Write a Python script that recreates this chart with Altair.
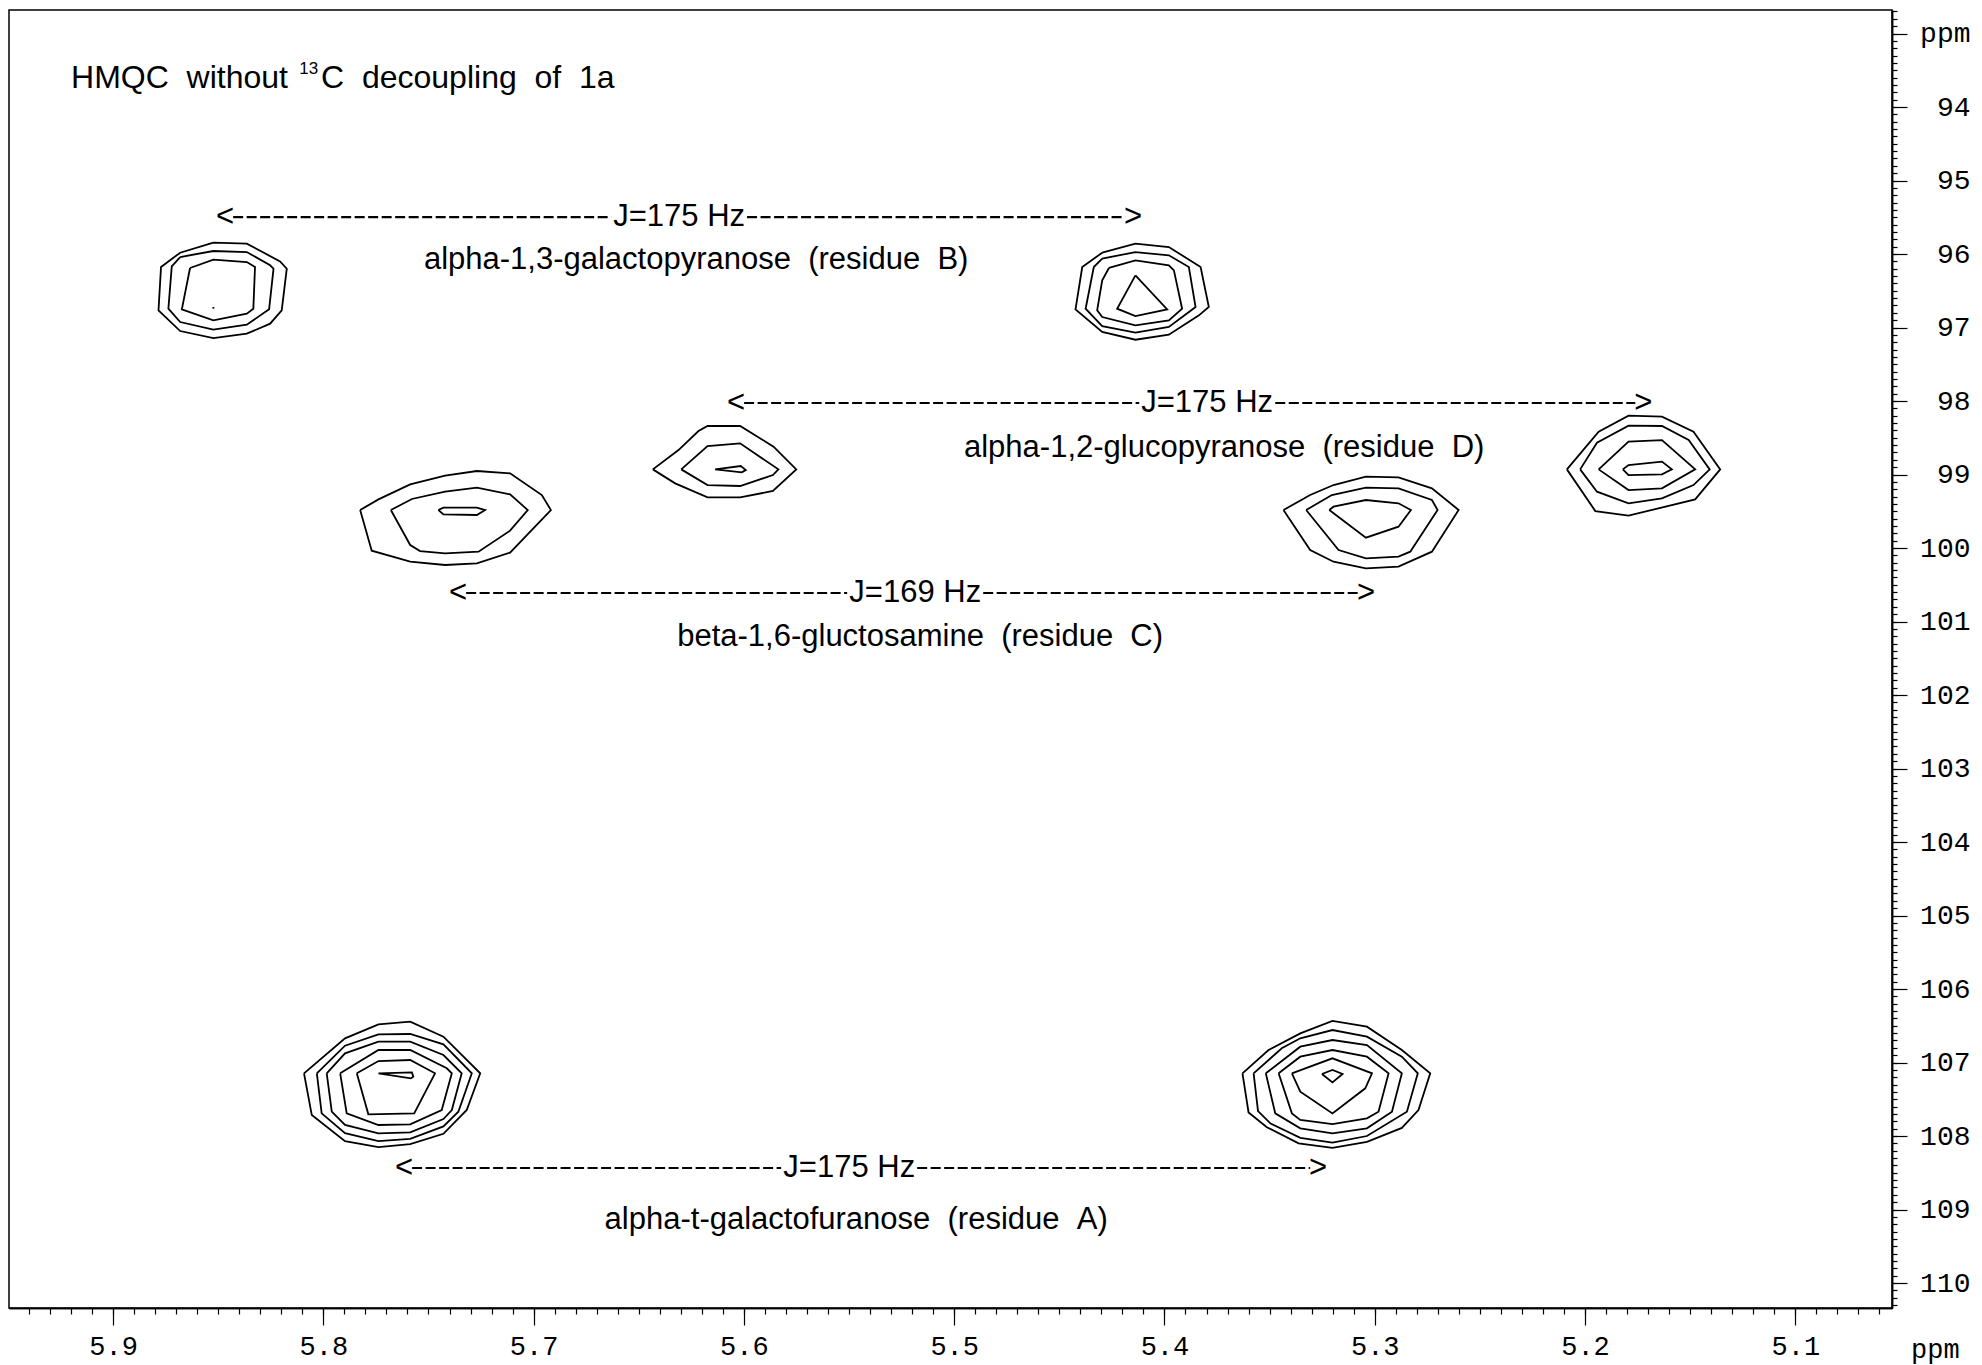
import altair as alt
import pandas as pd

# ---------------- contour polygons (x = 1H ppm, y = 13C ppm) ----------------
PEAK_B_LEFT = [
    [(5.8523, 95.846), (5.8364, 95.859), (5.8206, 96.100), (5.8174, 96.200), (5.8198, 96.766), (5.8253, 96.948),
     (5.8364, 97.084), (5.8523, 97.143), (5.8681, 97.048), (5.8784, 96.766), (5.8772, 96.177), (5.8681, 95.982)],
    [(5.8681, 96.041), (5.8523, 95.959), (5.8364, 95.973), (5.8253, 96.154), (5.8237, 96.200), (5.8258, 96.753),
     (5.8364, 96.961), (5.8523, 97.029), (5.8681, 96.925), (5.8737, 96.744), (5.8721, 96.168)],
    [(5.8634, 96.190), (5.8523, 96.077), (5.8364, 96.109), (5.8325, 96.177), (5.8333, 96.744), (5.8364, 96.812),
     (5.8523, 96.902), (5.8673, 96.753)],
]
DOT_B_LEFT = [(5.8523, 96.721), (5.8523, 96.744)]

PEAK_B_RIGHT = [
    [(5.4296, 95.982), (5.4138, 95.859), (5.3979, 95.905), (5.3828, 96.177), (5.3789, 96.721), (5.3836, 96.834),
     (5.3979, 97.098), (5.4138, 97.166), (5.4296, 97.061), (5.4423, 96.753), (5.4391, 96.177)],
    [(5.4296, 96.063), (5.4138, 95.973), (5.3979, 96.018), (5.3884, 96.177), (5.3852, 96.721), (5.3979, 96.993),
     (5.4138, 97.070), (5.4296, 96.980), (5.4375, 96.744), (5.4336, 96.177)],
    [(5.4264, 96.190), (5.4138, 96.086), (5.3979, 96.154), (5.3955, 96.222), (5.3916, 96.744), (5.3979, 96.902),
     (5.4138, 96.971), (5.4296, 96.857), (5.4320, 96.766), (5.4296, 96.358)],
    [(5.4138, 96.290), (5.3987, 96.753), (5.4138, 96.844), (5.4225, 96.744)],
]

PEAK_C_LEFT = [
    [(5.7825, 99.483), (5.7738, 99.338), (5.7587, 99.134), (5.7421, 99.016), (5.7270, 98.952), (5.7112, 98.984),
     (5.6961, 99.279), (5.6918, 99.483), (5.7112, 100.063), (5.7270, 100.209), (5.7421, 100.231), (5.7587, 100.186),
     (5.7770, 100.036)],
    [(5.7679, 99.483), (5.7579, 99.333), (5.7421, 99.234), (5.7270, 99.179), (5.7112, 99.270), (5.7028, 99.483),
     (5.7112, 99.764), (5.7262, 100.050), (5.7421, 100.073), (5.7540, 100.041), (5.7587, 99.959)],
    [(5.7453, 99.483), (5.7429, 99.451), (5.7270, 99.451), (5.7231, 99.483), (5.7270, 99.551), (5.7429, 99.542)],
]

PEAK_D_LEFT = [
    [(5.6433, 98.930), (5.6311, 98.667), (5.6216, 98.408), (5.6173, 98.340), (5.6018, 98.340), (5.5859, 98.621),
     (5.5751, 98.930), (5.5862, 99.224), (5.6018, 99.311), (5.6173, 99.311), (5.6327, 99.120)],
    [(5.6298, 98.930), (5.6173, 98.612), (5.6018, 98.576), (5.5836, 98.930), (5.5862, 99.007), (5.6018, 99.156),
     (5.6173, 99.143)],
    [(5.6137, 98.930), (5.6015, 98.884), (5.5991, 98.939), (5.6010, 98.971)],
]

PEAK_C_RIGHT = [
    [(5.3434, 99.483), (5.3307, 99.279), (5.3196, 99.143), (5.3042, 99.029), (5.2887, 99.039), (5.2728, 99.188),
     (5.2601, 99.483), (5.2728, 100.050), (5.2887, 100.254), (5.3042, 100.277), (5.3196, 100.186), (5.3307, 100.027)],
    [(5.3326, 99.483), (5.3204, 99.279), (5.3042, 99.179), (5.2887, 99.188), (5.2728, 99.347), (5.2701, 99.483),
     (5.2831, 100.050), (5.2887, 100.118), (5.3042, 100.141), (5.3172, 100.027)],
    [(5.3216, 99.483), (5.3196, 99.438), (5.3042, 99.347), (5.2887, 99.392), (5.2828, 99.483), (5.2887, 99.710),
     (5.3042, 99.859)],
]

PEAK_D_RIGHT = [
    [(5.2086, 98.930), (5.1935, 98.417), (5.1793, 98.200), (5.1634, 98.213), (5.1484, 98.417), (5.1357, 98.930),
     (5.1476, 99.338), (5.1793, 99.560), (5.1951, 99.497)],
    [(5.2023, 98.930), (5.1943, 98.567), (5.1793, 98.336), (5.1634, 98.340), (5.1507, 98.531), (5.1407, 98.930),
     (5.1484, 99.143), (5.1634, 99.324), (5.1793, 99.392), (5.1943, 99.234)],
    [(5.1935, 98.930), (5.1793, 98.553), (5.1634, 98.531), (5.1476, 98.930), (5.1634, 99.188), (5.1793, 99.211)],
    [(5.1820, 98.930), (5.1793, 98.871), (5.1634, 98.825), (5.1587, 98.930), (5.1634, 98.998), (5.1793, 99.007)],
]

PEAK_A_LEFT = [
    [(5.8092, 107.147), (5.7897, 106.671), (5.7738, 106.481), (5.7587, 106.444), (5.7429, 106.649), (5.7254, 107.147),
     (5.7318, 107.646), (5.7429, 107.970), (5.7587, 108.110), (5.7738, 108.150), (5.7897, 108.070), (5.8055, 107.715)],
    [(5.8031, 107.147), (5.7897, 106.771), (5.7738, 106.617), (5.7587, 106.612), (5.7429, 106.753), (5.7294, 107.147),
     (5.7358, 107.669), (5.7429, 107.870), (5.7587, 108.040), (5.7738, 108.070), (5.7897, 107.960), (5.8008, 107.692)],
    [(5.7984, 107.147), (5.7897, 106.875), (5.7738, 106.717), (5.7587, 106.717), (5.7429, 106.898), (5.7342, 107.147),
     (5.7389, 107.646), (5.7429, 107.769), (5.7587, 107.950), (5.7738, 107.964), (5.7897, 107.850), (5.7960, 107.669)],
    [(5.7920, 107.147), (5.7738, 106.830), (5.7587, 106.830), (5.7413, 107.079), (5.7389, 107.147), (5.7437, 107.646),
     (5.7587, 107.841), (5.7738, 107.850), (5.7889, 107.692)],
    [(5.7841, 107.147), (5.7738, 106.980), (5.7587, 106.966), (5.7469, 107.147), (5.7568, 107.692), (5.7786, 107.705)],
    [(5.7738, 107.147), (5.7579, 107.134), (5.7572, 107.193), (5.7584, 107.215)],
]

PEAK_A_RIGHT = [
    [(5.3629, 107.147), (5.3505, 106.830), (5.3354, 106.603), (5.3201, 106.435), (5.3037, 106.513), (5.2871, 106.830),
     (5.2736, 107.147), (5.2792, 107.646), (5.2871, 107.890), (5.3037, 108.080), (5.3201, 108.160), (5.3362, 108.100),
     (5.3513, 107.880), (5.3600, 107.680)],
    [(5.3576, 107.147), (5.3442, 106.807), (5.3354, 106.671), (5.3201, 106.558), (5.3037, 106.649), (5.2871, 106.921),
     (5.2795, 107.147), (5.2847, 107.669), (5.3037, 108.000), (5.3201, 108.090), (5.3354, 108.025), (5.3495, 107.830),
     (5.3555, 107.660)],
    [(5.3518, 107.147), (5.3354, 106.785), (5.3201, 106.694), (5.3037, 106.762), (5.2871, 107.147), (5.2918, 107.669),
     (5.3037, 107.896), (5.3201, 107.964), (5.3354, 107.896), (5.3473, 107.692)],
    [(5.3457, 107.147), (5.3354, 106.921), (5.3201, 106.830), (5.3037, 106.921), (5.2934, 107.147), (5.2982, 107.669),
     (5.3037, 107.760), (5.3201, 107.837), (5.3354, 107.782), (5.3394, 107.692)],
    [(5.3394, 107.147), (5.3201, 106.943), (5.3013, 107.147), (5.3045, 107.351), (5.3201, 107.692), (5.3354, 107.397)],
    [(5.3251, 107.156), (5.3201, 107.102), (5.3153, 107.156), (5.3201, 107.270)],
]

# ---------------- J-coupling arrows ----------------
ARROW_Y = [95.497, 98.027, 100.612, 108.435]
ARROW_TIP_L = [5.8510, 5.6080, 5.7402, 5.7659]
ARROW_TIP_R = [5.4106, 5.1680, 5.2998, 5.3226]
DASH_L_START = [5.8429, 5.5999, 5.7321, 5.7578]
DASH_L_END = [5.6631, 5.4120, 5.5509, 5.5823]
DASH_R_START = [5.5985, 5.3473, 5.4862, 5.5176]
DASH_R_END = [5.4187, 5.1761, 5.3078, 5.3307]
J_X = [5.6308, 5.3797, 5.5185, 5.5499]
J_TEXT = ["J=175 Hz", "J=175 Hz", "J=169 Hz", "J=175 Hz"]

# ---------------- residue labels ----------------
LABEL_TEXT = [
    "alpha-1,3-galactopyranose\u00a0\u00a0(residue\u00a0\u00a0B)",
    "alpha-1,2-glucopyranose\u00a0\u00a0(residue\u00a0\u00a0D)",
    "beta-1,6-gluctosamine\u00a0\u00a0(residue\u00a0\u00a0C)",
    "alpha-t-galactofuranose\u00a0\u00a0(residue\u00a0\u00a0A)",
]
LABEL_X = [5.6227, 5.3716, 5.5162, 5.5466]
LABEL_Y = [96.082, 98.639, 101.211, 109.143]

TITLE_PARTS = ["HMQC\u00a0\u00a0without", "C\u00a0\u00a0decoupling\u00a0\u00a0of\u00a0\u00a01a"]
TITLE_X = [5.9200, 5.8011]
TITLE_Y = [93.605, 93.605]
SUP_TEXT = ["13"]
SUP_X = [5.8115]
SUP_Y = [93.48]

X_MAJOR = [5.1, 5.2, 5.3, 5.4, 5.5, 5.6, 5.7, 5.8, 5.9]
X_MINOR = [round(5.06 + 0.01 * i, 2) for i in range(89)]
Y_MAJOR = list(range(93, 111))
Y_MINOR = [round(92.7 + 0.1 * i, 1) for i in range(177)]
PPM_X = [5.0334]
PPM_Y = [110.912]

# ---------------- build tables ----------------
rows = []
cid = 0
for group, closed in [(PEAK_B_LEFT, True), ([DOT_B_LEFT], False), (PEAK_B_RIGHT, True),
                      (PEAK_C_LEFT, True), (PEAK_D_LEFT, True), (PEAK_C_RIGHT, True),
                      (PEAK_D_RIGHT, True), (PEAK_A_LEFT, True), (PEAK_A_RIGHT, True)]:
    for contour in group:
        pts = list(contour) + ([contour[0]] if closed else [])
        for i, (x, y) in enumerate(pts):
            rows.append({"x": x, "y": y, "cid": cid, "ord": i})
        cid += 1
contour_df = pd.DataFrame(rows)

dash_df = pd.DataFrame({
    "x": DASH_L_START + DASH_R_START,
    "x2": DASH_L_END + DASH_R_END,
    "y": ARROW_Y + ARROW_Y,
})
tipl_df = pd.DataFrame({"x": ARROW_TIP_L, "y": ARROW_Y, "t": ["<"] * 4})
tipr_df = pd.DataFrame({"x": ARROW_TIP_R, "y": ARROW_Y, "t": [">"] * 4})
center_df = pd.DataFrame({"x": J_X + LABEL_X, "y": ARROW_Y + LABEL_Y, "t": J_TEXT + LABEL_TEXT})
title_df = pd.DataFrame({"x": TITLE_X, "y": TITLE_Y, "t": TITLE_PARTS})
sup_df = pd.DataFrame({"x": SUP_X, "y": SUP_Y, "t": SUP_TEXT})
ppm_df = pd.DataFrame({"x": PPM_X, "y": PPM_Y, "t": ["ppm"]})

XS = alt.Scale(domain=[5.054, 5.9495], reverse=True, nice=False, zero=False)
YS = alt.Scale(domain=[92.68, 110.34], reverse=True, nice=False, zero=False)

FONT = "Liberation Sans Narrow, Arial Narrow, Liberation Sans, sans-serif"
FS = 31

def xq(field="x", axis=None):
    return alt.X(f"{field}:Q", scale=XS, axis=axis)

def yq(field="y", axis=None):
    return alt.Y(f"{field}:Q", scale=YS, axis=axis)

contours = alt.Chart(contour_df).mark_line(color="black", strokeWidth=1.8).encode(
    x=xq(axis=alt.Axis(values=X_MINOR, labels=False, tickSize=6, orient="bottom", grid=False, title=None)),
    y=yq(axis=alt.Axis(values=Y_MINOR, labels=False, tickSize=5, orient="right", grid=False, title=None)),
    detail="cid:N",
    order="ord:Q",
)

centers = alt.Chart(center_df).mark_text(font=FONT, fontSize=FS, color="black", align="center",
                                         baseline="middle").encode(
    x=xq(axis=alt.Axis(values=X_MAJOR, format=".1f", tickSize=17, labelPadding=8, orient="bottom",
                       grid=False, title=None)),
    y=yq(axis=alt.Axis(values=Y_MAJOR, format="d", tickSize=15, labelPadding=63, labelAlign="right",
                       labelBaseline="middle", orient="right", grid=False, title=None, labelFontSize=28,
                       labelExpr="datum.value == 93 ? 'ppm' : datum.label")),
    text="t:N",
)

dashes = alt.Chart(dash_df).mark_rule(color="black", strokeWidth=2.2, strokeDash=[10, 3.5]).encode(
    x=xq(), x2="x2:Q", y=yq())

tips_l = alt.Chart(tipl_df).mark_text(font=FONT, fontSize=FS, color="black", align="left",
                                      baseline="middle").encode(x=xq(), y=yq(), text="t:N")
tips_r = alt.Chart(tipr_df).mark_text(font=FONT, fontSize=FS, color="black", align="right",
                                      baseline="middle").encode(x=xq(), y=yq(), text="t:N")
title = alt.Chart(title_df).mark_text(font=FONT, fontSize=32, color="black", align="left",
                                      baseline="middle").encode(x=xq(), y=yq(), text="t:N")
sup = alt.Chart(sup_df).mark_text(font=FONT, fontSize=17, color="black", align="left",
                                  baseline="middle").encode(x=xq(), y=yq(), text="t:N")
ppm = alt.Chart(ppm_df).mark_text(font="Liberation Mono", fontSize=27, color="black", align="center",
                                  baseline="middle").encode(x=xq(), y=yq(), text="t:N")

chart = alt.layer(contours, centers, dashes, tips_l, tips_r, title, sup, ppm).resolve_axis(
    x="independent", y="independent"
).properties(
    width=1883, height=1298,
    autosize=alt.AutoSizeParams(type="none"),
    padding={"left": 9, "top": 10, "right": 90, "bottom": 57},
    background="white",
).configure_view(
    stroke="black", strokeWidth=1.5
).configure_axis(
    domainColor="black", tickColor="black", labelColor="black", domainWidth=1.5, tickWidth=1.2,
    labelFont="Liberation Mono", labelFontSize=27,
)

chart.save("out.html", embed_options={"renderer": "svg", "actions": False})
